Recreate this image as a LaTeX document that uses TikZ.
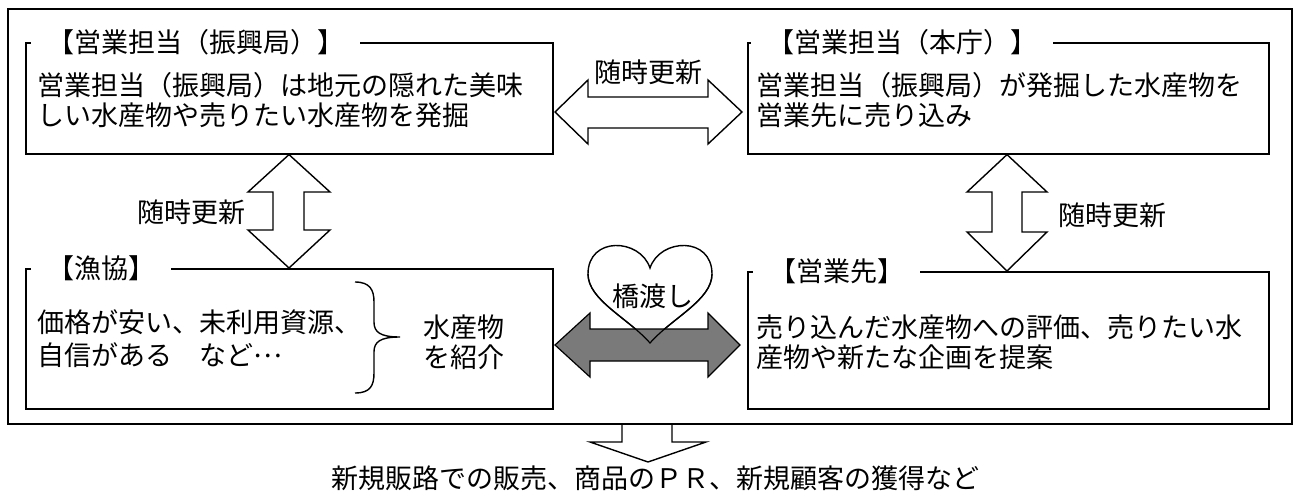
\documentclass[tikz,border=0pt]{standalone}
\usepackage{fontspec}
\setmainfont{Noto Sans CJK JP}
\newcommand{\jpsz}{\fontsize{27}{30}\selectfont}
\begin{document}
\begin{tikzpicture}[x=1pt,y=-1pt,
  frame/.style={draw, line width=2pt, inner sep=0pt, anchor=north west},
  box/.style={draw, line width=1.6pt, inner sep=0pt, anchor=north west},
  ttl/.style={fill=white, inner xsep=16pt, inner ysep=1pt, anchor=west, font=\jpsz},
  body/.style={anchor=west, align=left, inner sep=0pt, font=\jpsz},
  lbl/.style={inner sep=1pt, font=\jpsz},
  blk/.style={draw, line width=1.4pt, fill=white, line join=miter},
  dark/.style={draw, line width=1.2pt, fill=black!52, line join=miter},
  brace/.style={draw, line width=1.4pt}
]
\useasboundingbox (0,0) rectangle (1296,500);
% outer frame
\node[frame, minimum width=1284pt, minimum height=415pt] (outer) at (7,8) {};
% boxes
\node[box, minimum width=527pt, minimum height=111pt] (tl) at (25,42) {};
\node[box, minimum width=521pt, minimum height=111pt] (tr) at (747,42) {};
\node[box, minimum width=527pt, minimum height=140pt] (bl) at (25,268) {};
\node[box, minimum width=521pt, minimum height=137pt] (br) at (747,271) {};
% titles
\node[ttl] (tlT) at ([xshift=6pt]tl.north west) {【営業担当（振興局）】};
\node[ttl] (trT) at ([xshift=4pt]tr.north west) {【営業担当（本庁）】};
\node[ttl] (blT) at ([xshift=6pt]bl.north west) {【漁協】};
\node[ttl] (brT) at ([xshift=6pt]br.north west) {【営業先】};
% bodies
\node[body] (tlB) at (37,100) {営業担当（振興局）は地元の隠れた美味\\しい水産物や売りたい水産物を発掘};
\node[body] (trB) at (756,100) {営業担当（振興局）が発掘した水産物を\\営業先に売り込み};
\node[body] (blB1) at (37,322) {価格が安い、未利用資源、};
\node[body] (blB2) at (37,355) {自信がある　など\raisebox{0.3em}{…}};
\node[body] (blR) at (423,342) {水産物\\を紹介};
\node[body] (brB) at (756,342) {売り込んだ水産物への評価、売りたい水\\産物や新たな企画を提案};
% brace
\draw[brace] (355,282) .. controls (370,282) and (374,290) .. (374,302) -- (374,322)
  .. controls (374,332) and (380,337) .. (400,337)
  .. controls (380,337) and (374,342) .. (374,352) -- (374,373)
  .. controls (374,386) and (370,393) .. (355,393);
% top horizontal double arrow
\draw[blk] (555,112)
  -- (588,80) -- (588,97) -- (708,97) -- (708,80) -- (742,112)
  -- (708,144) -- (708,128) -- (588,128) -- (588,144) -- cycle;
\node[lbl] (lblTop) at (648,72) {随時更新};
% left vertical double arrow
\draw[blk] (tl.south -| 289,0) -- (330,192) -- (304,192) -- (304,230) -- (330,230)
  -- (bl.north -| 289,0) -- (248,230) -- (273,230) -- (273,192) -- (248,192) -- cycle;
\node[lbl] (lblL) at (191,212) {随時更新};
% right vertical double arrow
\draw[blk] (tr.south -| 1007,0) -- (1047,192) -- (1022,192) -- (1022,232) -- (1047,232)
  -- (br.north -| 1007,0) -- (967,232) -- (992,232) -- (992,192) -- (967,192) -- cycle;
\node[lbl] (lblR) at (1112,215) {随時更新};
% heart
\path[fill=white, draw, line width=1.4pt] (650,268)
  .. controls (640,238) and (588,236) .. (588,274)
  .. controls (588,300) and (628,318) .. (650,343)
  .. controls (672,318) and (712,300) .. (712,274)
  .. controls (712,236) and (660,238) .. (650,268) -- cycle;
% dark double arrow
\draw[dark] (555,345) -- (590,313) -- (590,329) -- (708,329) -- (708,313) -- (740,345)
  -- (708,377) -- (708,361) -- (590,361) -- (590,377) -- cycle;
\draw[line width=1.2pt] (588,274)
  .. controls (588,300) and (628,318) .. (650,343)
  .. controls (672,318) and (712,300) .. (712,274);
\node[lbl] (lblH) at (653,296) {橋渡し};
% bottom arrow
\draw[blk, fill=none] (622,423) -- (622,442) -- (590,442) -- (648,462) -- (706,442) -- (672,442) -- (672,423);
\node[lbl] (result) at (655,478) {新規販路での販売、商品のＰＲ、新規顧客の獲得など};
\end{tikzpicture}
\end{document}
